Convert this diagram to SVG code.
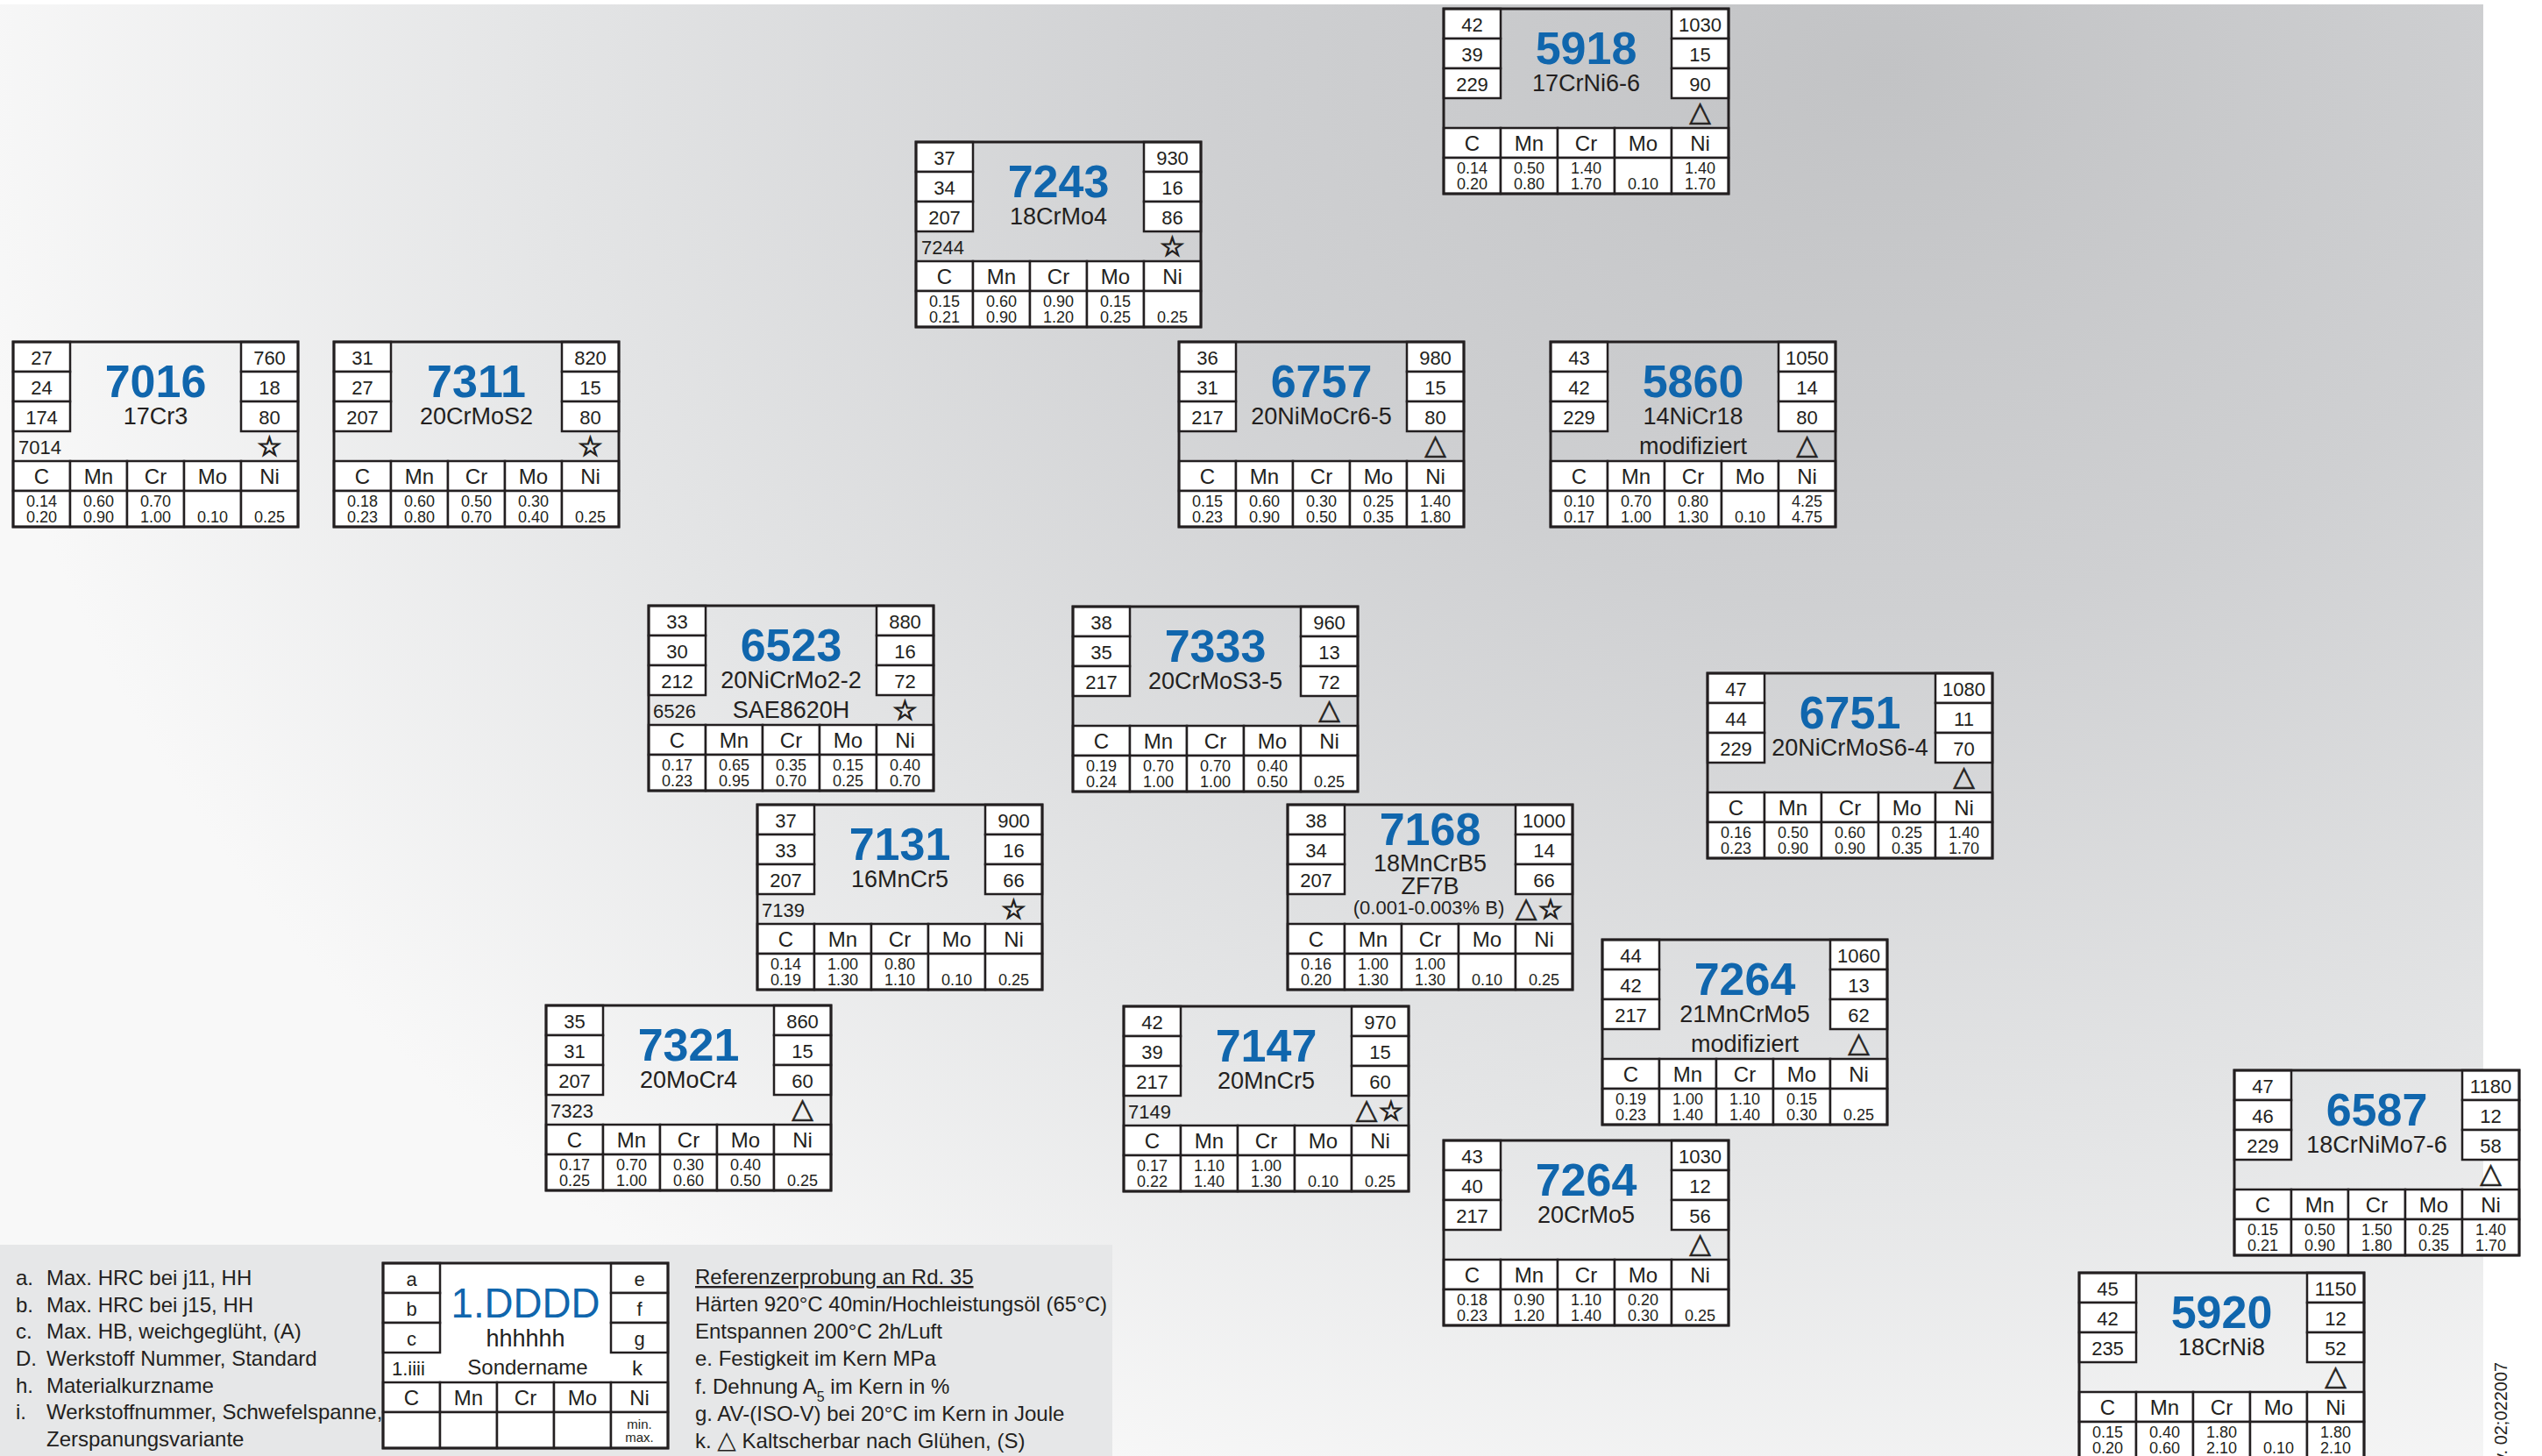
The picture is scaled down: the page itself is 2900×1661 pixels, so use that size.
<svg xmlns="http://www.w3.org/2000/svg" xmlns:xlink="http://www.w3.org/1999/xlink" width="2900" height="1661" viewBox="0 0 2900 1661">
<style>
text{font-family:"Liberation Sans",Arial,Helvetica,sans-serif;fill:#231f20}
.n{font-size:22px;text-anchor:middle}
.b{font-size:52px;font-weight:bold;fill:#1066ad;text-anchor:middle}
.m{font-size:27px;text-anchor:middle}
.h{font-size:24px;text-anchor:middle}
.v{font-size:18px;text-anchor:middle}
.l{font-size:22px}
.s{font-family:"DejaVu Sans",sans-serif;font-size:32px;text-anchor:middle;stroke:#231f20;stroke-width:0.6}
.st{font-family:"DejaVu Sans",sans-serif;font-size:31px;font-weight:bold;text-anchor:middle;stroke:#231f20;stroke-width:1.3}
.g{font-size:24px}
.cell rect{fill:#fff;stroke:#231f20;stroke-width:2.5}
</style>
<defs>
<radialGradient id="bg" gradientUnits="userSpaceOnUse" cx="2150" cy="80" r="2200" gradientTransform="translate(2150 80) scale(1 0.8) translate(-2150 -80)">
<stop offset="0" stop-color="#c2c3c5"/>
<stop offset="0.35" stop-color="#cfd0d2"/>
<stop offset="0.7" stop-color="#e4e5e6"/>
<stop offset="1" stop-color="#f8f8f8"/>
</radialGradient>
<g id="fr">
<g class="cell">
<rect x="0" y="0" width="65" height="34"/><rect x="0" y="34" width="65" height="34"/><rect x="0" y="68" width="65" height="34"/>
<rect x="260" y="0" width="65" height="34"/><rect x="260" y="34" width="65" height="34"/><rect x="260" y="68" width="65" height="34"/>
<rect x="0" y="136" width="65" height="34"/><rect x="65" y="136" width="65" height="34"/><rect x="130" y="136" width="65" height="34"/><rect x="195" y="136" width="65" height="34"/><rect x="260" y="136" width="65" height="34"/>
<rect x="0" y="170" width="65" height="41"/><rect x="65" y="170" width="65" height="41"/><rect x="130" y="170" width="65" height="41"/><rect x="195" y="170" width="65" height="41"/><rect x="260" y="170" width="65" height="41"/>
</g>
<rect x="0" y="0" width="325" height="211" fill="none" stroke="#231f20" stroke-width="3"/>
</g>
</defs>
<rect x="0" y="0" width="2900" height="1661" fill="#ffffff"/>
<rect x="0" y="5" width="2833" height="1656" fill="url(#bg)"/>
<rect x="0" y="1420" width="1269" height="241" fill="#e6e7e8"/>
<g id="connectors"/>

<g id="n5918" transform="translate(1647,10)">
<use href="#fr"/>
<text class="n" x="32.5" y="26">42</text><text class="n" x="32.5" y="60">39</text><text class="n" x="32.5" y="94">229</text>
<text class="n" x="292.5" y="26">1030</text><text class="n" x="292.5" y="60">15</text><text class="n" x="292.5" y="94">90</text>
<text class="b" x="162.5" y="63">5918</text><text class="m" x="162.5" y="94">17CrNi6-6</text>
<text class="s" x="292.5" y="128">△</text>
<text class="h" x="32.5" y="162">C</text><text class="h" x="97.5" y="162">Mn</text><text class="h" x="162.5" y="162">Cr</text><text class="h" x="227.5" y="162">Mo</text><text class="h" x="292.5" y="162">Ni</text>
<text class="v" x="32.5" y="188">0.14<tspan x="32.5" y="206">0.20</tspan></text>
<text class="v" x="97.5" y="188">0.50<tspan x="97.5" y="206">0.80</tspan></text>
<text class="v" x="162.5" y="188">1.40<tspan x="162.5" y="206">1.70</tspan></text>
<text class="v" x="227.5" y="206">0.10</text>
<text class="v" x="292.5" y="188">1.40<tspan x="292.5" y="206">1.70</tspan></text>
</g>

<g id="n7243" transform="translate(1045,162)">
<use href="#fr"/>
<text class="n" x="32.5" y="26">37</text><text class="n" x="32.5" y="60">34</text><text class="n" x="32.5" y="94">207</text>
<text class="n" x="292.5" y="26">930</text><text class="n" x="292.5" y="60">16</text><text class="n" x="292.5" y="94">86</text>
<text class="b" x="162.5" y="63">7243</text><text class="m" x="162.5" y="94">18CrMo4</text>
<text class="l" x="6" y="128">7244</text><text class="st" x="292.5" y="130">☆</text>
<text class="h" x="32.5" y="162">C</text><text class="h" x="97.5" y="162">Mn</text><text class="h" x="162.5" y="162">Cr</text><text class="h" x="227.5" y="162">Mo</text><text class="h" x="292.5" y="162">Ni</text>
<text class="v" x="32.5" y="188">0.15<tspan x="32.5" y="206">0.21</tspan></text>
<text class="v" x="97.5" y="188">0.60<tspan x="97.5" y="206">0.90</tspan></text>
<text class="v" x="162.5" y="188">0.90<tspan x="162.5" y="206">1.20</tspan></text>
<text class="v" x="227.5" y="188">0.15<tspan x="227.5" y="206">0.25</tspan></text>
<text class="v" x="292.5" y="206">0.25</text>
</g>

<g id="n7016" transform="translate(15,390)">
<use href="#fr"/>
<text class="n" x="32.5" y="26">27</text><text class="n" x="32.5" y="60">24</text><text class="n" x="32.5" y="94">174</text>
<text class="n" x="292.5" y="26">760</text><text class="n" x="292.5" y="60">18</text><text class="n" x="292.5" y="94">80</text>
<text class="b" x="162.5" y="63">7016</text><text class="m" x="162.5" y="94">17Cr3</text>
<text class="l" x="6" y="128">7014</text><text class="st" x="292.5" y="130">☆</text>
<text class="h" x="32.5" y="162">C</text><text class="h" x="97.5" y="162">Mn</text><text class="h" x="162.5" y="162">Cr</text><text class="h" x="227.5" y="162">Mo</text><text class="h" x="292.5" y="162">Ni</text>
<text class="v" x="32.5" y="188">0.14<tspan x="32.5" y="206">0.20</tspan></text>
<text class="v" x="97.5" y="188">0.60<tspan x="97.5" y="206">0.90</tspan></text>
<text class="v" x="162.5" y="188">0.70<tspan x="162.5" y="206">1.00</tspan></text>
<text class="v" x="227.5" y="206">0.10</text>
<text class="v" x="292.5" y="206">0.25</text>
</g>

<g id="n7311" transform="translate(381,390)">
<use href="#fr"/>
<text class="n" x="32.5" y="26">31</text><text class="n" x="32.5" y="60">27</text><text class="n" x="32.5" y="94">207</text>
<text class="n" x="292.5" y="26">820</text><text class="n" x="292.5" y="60">15</text><text class="n" x="292.5" y="94">80</text>
<text class="b" x="162.5" y="63">7311</text><text class="m" x="162.5" y="94">20CrMoS2</text>
<text class="st" x="292.5" y="130">☆</text>
<text class="h" x="32.5" y="162">C</text><text class="h" x="97.5" y="162">Mn</text><text class="h" x="162.5" y="162">Cr</text><text class="h" x="227.5" y="162">Mo</text><text class="h" x="292.5" y="162">Ni</text>
<text class="v" x="32.5" y="188">0.18<tspan x="32.5" y="206">0.23</tspan></text>
<text class="v" x="97.5" y="188">0.60<tspan x="97.5" y="206">0.80</tspan></text>
<text class="v" x="162.5" y="188">0.50<tspan x="162.5" y="206">0.70</tspan></text>
<text class="v" x="227.5" y="188">0.30<tspan x="227.5" y="206">0.40</tspan></text>
<text class="v" x="292.5" y="206">0.25</text>
</g>

<g id="n6757" transform="translate(1345,390)">
<use href="#fr"/>
<text class="n" x="32.5" y="26">36</text><text class="n" x="32.5" y="60">31</text><text class="n" x="32.5" y="94">217</text>
<text class="n" x="292.5" y="26">980</text><text class="n" x="292.5" y="60">15</text><text class="n" x="292.5" y="94">80</text>
<text class="b" x="162.5" y="63">6757</text><text class="m" x="162.5" y="94">20NiMoCr6-5</text>
<text class="s" x="292.5" y="128">△</text>
<text class="h" x="32.5" y="162">C</text><text class="h" x="97.5" y="162">Mn</text><text class="h" x="162.5" y="162">Cr</text><text class="h" x="227.5" y="162">Mo</text><text class="h" x="292.5" y="162">Ni</text>
<text class="v" x="32.5" y="188">0.15<tspan x="32.5" y="206">0.23</tspan></text>
<text class="v" x="97.5" y="188">0.60<tspan x="97.5" y="206">0.90</tspan></text>
<text class="v" x="162.5" y="188">0.30<tspan x="162.5" y="206">0.50</tspan></text>
<text class="v" x="227.5" y="188">0.25<tspan x="227.5" y="206">0.35</tspan></text>
<text class="v" x="292.5" y="188">1.40<tspan x="292.5" y="206">1.80</tspan></text>
</g>

<g id="n5860" transform="translate(1769,390)">
<use href="#fr"/>
<text class="n" x="32.5" y="26">43</text><text class="n" x="32.5" y="60">42</text><text class="n" x="32.5" y="94">229</text>
<text class="n" x="292.5" y="26">1050</text><text class="n" x="292.5" y="60">14</text><text class="n" x="292.5" y="94">80</text>
<text class="b" x="162.5" y="63">5860</text><text class="m" x="162.5" y="94">14NiCr18</text>
<text class="m" x="162.5" y="128">modifiziert</text><text class="s" x="292.5" y="128">△</text>
<text class="h" x="32.5" y="162">C</text><text class="h" x="97.5" y="162">Mn</text><text class="h" x="162.5" y="162">Cr</text><text class="h" x="227.5" y="162">Mo</text><text class="h" x="292.5" y="162">Ni</text>
<text class="v" x="32.5" y="188">0.10<tspan x="32.5" y="206">0.17</tspan></text>
<text class="v" x="97.5" y="188">0.70<tspan x="97.5" y="206">1.00</tspan></text>
<text class="v" x="162.5" y="188">0.80<tspan x="162.5" y="206">1.30</tspan></text>
<text class="v" x="227.5" y="206">0.10</text>
<text class="v" x="292.5" y="188">4.25<tspan x="292.5" y="206">4.75</tspan></text>
</g>

<g id="n6523" transform="translate(740,691)">
<use href="#fr"/>
<text class="n" x="32.5" y="26">33</text><text class="n" x="32.5" y="60">30</text><text class="n" x="32.5" y="94">212</text>
<text class="n" x="292.5" y="26">880</text><text class="n" x="292.5" y="60">16</text><text class="n" x="292.5" y="94">72</text>
<text class="b" x="162.5" y="63">6523</text><text class="m" x="162.5" y="94">20NiCrMo2-2</text>
<text class="l" x="5" y="128">6526</text><text class="m" x="162.5" y="128">SAE8620H</text><text class="st" x="292.5" y="130">☆</text>
<text class="h" x="32.5" y="162">C</text><text class="h" x="97.5" y="162">Mn</text><text class="h" x="162.5" y="162">Cr</text><text class="h" x="227.5" y="162">Mo</text><text class="h" x="292.5" y="162">Ni</text>
<text class="v" x="32.5" y="188">0.17<tspan x="32.5" y="206">0.23</tspan></text>
<text class="v" x="97.5" y="188">0.65<tspan x="97.5" y="206">0.95</tspan></text>
<text class="v" x="162.5" y="188">0.35<tspan x="162.5" y="206">0.70</tspan></text>
<text class="v" x="227.5" y="188">0.15<tspan x="227.5" y="206">0.25</tspan></text>
<text class="v" x="292.5" y="188">0.40<tspan x="292.5" y="206">0.70</tspan></text>
</g>

<g id="n7333" transform="translate(1224,692)">
<use href="#fr"/>
<text class="n" x="32.5" y="26">38</text><text class="n" x="32.5" y="60">35</text><text class="n" x="32.5" y="94">217</text>
<text class="n" x="292.5" y="26">960</text><text class="n" x="292.5" y="60">13</text><text class="n" x="292.5" y="94">72</text>
<text class="b" x="162.5" y="63">7333</text><text class="m" x="162.5" y="94">20CrMoS3-5</text>
<text class="s" x="292.5" y="128">△</text>
<text class="h" x="32.5" y="162">C</text><text class="h" x="97.5" y="162">Mn</text><text class="h" x="162.5" y="162">Cr</text><text class="h" x="227.5" y="162">Mo</text><text class="h" x="292.5" y="162">Ni</text>
<text class="v" x="32.5" y="188">0.19<tspan x="32.5" y="206">0.24</tspan></text>
<text class="v" x="97.5" y="188">0.70<tspan x="97.5" y="206">1.00</tspan></text>
<text class="v" x="162.5" y="188">0.70<tspan x="162.5" y="206">1.00</tspan></text>
<text class="v" x="227.5" y="188">0.40<tspan x="227.5" y="206">0.50</tspan></text>
<text class="v" x="292.5" y="206">0.25</text>
</g>

<g id="n6751" transform="translate(1948,768)">
<use href="#fr"/>
<text class="n" x="32.5" y="26">47</text><text class="n" x="32.5" y="60">44</text><text class="n" x="32.5" y="94">229</text>
<text class="n" x="292.5" y="26">1080</text><text class="n" x="292.5" y="60">11</text><text class="n" x="292.5" y="94">70</text>
<text class="b" x="162.5" y="63">6751</text><text class="m" x="162.5" y="94">20NiCrMoS6-4</text>
<text class="s" x="292.5" y="128">△</text>
<text class="h" x="32.5" y="162">C</text><text class="h" x="97.5" y="162">Mn</text><text class="h" x="162.5" y="162">Cr</text><text class="h" x="227.5" y="162">Mo</text><text class="h" x="292.5" y="162">Ni</text>
<text class="v" x="32.5" y="188">0.16<tspan x="32.5" y="206">0.23</tspan></text>
<text class="v" x="97.5" y="188">0.50<tspan x="97.5" y="206">0.90</tspan></text>
<text class="v" x="162.5" y="188">0.60<tspan x="162.5" y="206">0.90</tspan></text>
<text class="v" x="227.5" y="188">0.25<tspan x="227.5" y="206">0.35</tspan></text>
<text class="v" x="292.5" y="188">1.40<tspan x="292.5" y="206">1.70</tspan></text>
</g>

<g id="n7131" transform="translate(864,918)">
<use href="#fr"/>
<text class="n" x="32.5" y="26">37</text><text class="n" x="32.5" y="60">33</text><text class="n" x="32.5" y="94">207</text>
<text class="n" x="292.5" y="26">900</text><text class="n" x="292.5" y="60">16</text><text class="n" x="292.5" y="94">66</text>
<text class="b" x="162.5" y="63">7131</text><text class="m" x="162.5" y="94">16MnCr5</text>
<text class="l" x="5" y="128">7139</text><text class="st" x="292.5" y="130">☆</text>
<text class="h" x="32.5" y="162">C</text><text class="h" x="97.5" y="162">Mn</text><text class="h" x="162.5" y="162">Cr</text><text class="h" x="227.5" y="162">Mo</text><text class="h" x="292.5" y="162">Ni</text>
<text class="v" x="32.5" y="188">0.14<tspan x="32.5" y="206">0.19</tspan></text>
<text class="v" x="97.5" y="188">1.00<tspan x="97.5" y="206">1.30</tspan></text>
<text class="v" x="162.5" y="188">0.80<tspan x="162.5" y="206">1.10</tspan></text>
<text class="v" x="227.5" y="206">0.10</text>
<text class="v" x="292.5" y="206">0.25</text>
</g>

<g id="n7168" transform="translate(1469,918)">
<use href="#fr"/>
<text class="n" x="32.5" y="26">38</text><text class="n" x="32.5" y="60">34</text><text class="n" x="32.5" y="94">207</text>
<text class="n" x="292.5" y="26">1000</text><text class="n" x="292.5" y="60">14</text><text class="n" x="292.5" y="94">66</text>
<text class="b" x="162.5" y="46">7168</text><text class="m" x="162.5" y="76">18MnCrB5</text>
<text class="m" x="162.5" y="102">ZF7B</text>
<text class="n" x="161" y="125">(0.001-0.003% B)</text>
<text class="s" x="272" y="128">△</text><text class="st" x="300" y="130">☆</text>
<text class="h" x="32.5" y="162">C</text><text class="h" x="97.5" y="162">Mn</text><text class="h" x="162.5" y="162">Cr</text><text class="h" x="227.5" y="162">Mo</text><text class="h" x="292.5" y="162">Ni</text>
<text class="v" x="32.5" y="188">0.16<tspan x="32.5" y="206">0.20</tspan></text>
<text class="v" x="97.5" y="188">1.00<tspan x="97.5" y="206">1.30</tspan></text>
<text class="v" x="162.5" y="188">1.00<tspan x="162.5" y="206">1.30</tspan></text>
<text class="v" x="227.5" y="206">0.10</text>
<text class="v" x="292.5" y="206">0.25</text>
</g>

<g id="n7321" transform="translate(623,1147)">
<use href="#fr"/>
<text class="n" x="32.5" y="26">35</text><text class="n" x="32.5" y="60">31</text><text class="n" x="32.5" y="94">207</text>
<text class="n" x="292.5" y="26">860</text><text class="n" x="292.5" y="60">15</text><text class="n" x="292.5" y="94">60</text>
<text class="b" x="162.5" y="63">7321</text><text class="m" x="162.5" y="94">20MoCr4</text>
<text class="l" x="5" y="128">7323</text><text class="s" x="292.5" y="128">△</text>
<text class="h" x="32.5" y="162">C</text><text class="h" x="97.5" y="162">Mn</text><text class="h" x="162.5" y="162">Cr</text><text class="h" x="227.5" y="162">Mo</text><text class="h" x="292.5" y="162">Ni</text>
<text class="v" x="32.5" y="188">0.17<tspan x="32.5" y="206">0.25</tspan></text>
<text class="v" x="97.5" y="188">0.70<tspan x="97.5" y="206">1.00</tspan></text>
<text class="v" x="162.5" y="188">0.30<tspan x="162.5" y="206">0.60</tspan></text>
<text class="v" x="227.5" y="188">0.40<tspan x="227.5" y="206">0.50</tspan></text>
<text class="v" x="292.5" y="206">0.25</text>
</g>

<g id="n7147" transform="translate(1282,1148)">
<use href="#fr"/>
<text class="n" x="32.5" y="26">42</text><text class="n" x="32.5" y="60">39</text><text class="n" x="32.5" y="94">217</text>
<text class="n" x="292.5" y="26">970</text><text class="n" x="292.5" y="60">15</text><text class="n" x="292.5" y="94">60</text>
<text class="b" x="162.5" y="63">7147</text><text class="m" x="162.5" y="94">20MnCr5</text>
<text class="l" x="5" y="128">7149</text><text class="s" x="277" y="128">△</text><text class="st" x="305" y="130">☆</text>
<text class="h" x="32.5" y="162">C</text><text class="h" x="97.5" y="162">Mn</text><text class="h" x="162.5" y="162">Cr</text><text class="h" x="227.5" y="162">Mo</text><text class="h" x="292.5" y="162">Ni</text>
<text class="v" x="32.5" y="188">0.17<tspan x="32.5" y="206">0.22</tspan></text>
<text class="v" x="97.5" y="188">1.10<tspan x="97.5" y="206">1.40</tspan></text>
<text class="v" x="162.5" y="188">1.00<tspan x="162.5" y="206">1.30</tspan></text>
<text class="v" x="227.5" y="206">0.10</text>
<text class="v" x="292.5" y="206">0.25</text>
</g>

<g id="n7264a" transform="translate(1828,1072)">
<use href="#fr"/>
<text class="n" x="32.5" y="26">44</text><text class="n" x="32.5" y="60">42</text><text class="n" x="32.5" y="94">217</text>
<text class="n" x="292.5" y="26">1060</text><text class="n" x="292.5" y="60">13</text><text class="n" x="292.5" y="94">62</text>
<text class="b" x="162.5" y="63">7264</text><text class="m" x="162.5" y="94">21MnCrMo5</text>
<text class="m" x="162.5" y="128">modifiziert</text><text class="s" x="292.5" y="128">△</text>
<text class="h" x="32.5" y="162">C</text><text class="h" x="97.5" y="162">Mn</text><text class="h" x="162.5" y="162">Cr</text><text class="h" x="227.5" y="162">Mo</text><text class="h" x="292.5" y="162">Ni</text>
<text class="v" x="32.5" y="188">0.19<tspan x="32.5" y="206">0.23</tspan></text>
<text class="v" x="97.5" y="188">1.00<tspan x="97.5" y="206">1.40</tspan></text>
<text class="v" x="162.5" y="188">1.10<tspan x="162.5" y="206">1.40</tspan></text>
<text class="v" x="227.5" y="188">0.15<tspan x="227.5" y="206">0.30</tspan></text>
<text class="v" x="292.5" y="206">0.25</text>
</g>

<g id="n7264b" transform="translate(1647,1301)">
<use href="#fr"/>
<text class="n" x="32.5" y="26">43</text><text class="n" x="32.5" y="60">40</text><text class="n" x="32.5" y="94">217</text>
<text class="n" x="292.5" y="26">1030</text><text class="n" x="292.5" y="60">12</text><text class="n" x="292.5" y="94">56</text>
<text class="b" x="162.5" y="63">7264</text><text class="m" x="162.5" y="94">20CrMo5</text>
<text class="s" x="292.5" y="128">△</text>
<text class="h" x="32.5" y="162">C</text><text class="h" x="97.5" y="162">Mn</text><text class="h" x="162.5" y="162">Cr</text><text class="h" x="227.5" y="162">Mo</text><text class="h" x="292.5" y="162">Ni</text>
<text class="v" x="32.5" y="188">0.18<tspan x="32.5" y="206">0.23</tspan></text>
<text class="v" x="97.5" y="188">0.90<tspan x="97.5" y="206">1.20</tspan></text>
<text class="v" x="162.5" y="188">1.10<tspan x="162.5" y="206">1.40</tspan></text>
<text class="v" x="227.5" y="188">0.20<tspan x="227.5" y="206">0.30</tspan></text>
<text class="v" x="292.5" y="206">0.25</text>
</g>

<g id="n6587" transform="translate(2549,1221)">
<use href="#fr"/>
<text class="n" x="32.5" y="26">47</text><text class="n" x="32.5" y="60">46</text><text class="n" x="32.5" y="94">229</text>
<text class="n" x="292.5" y="26">1180</text><text class="n" x="292.5" y="60">12</text><text class="n" x="292.5" y="94">58</text>
<text class="b" x="162.5" y="63">6587</text><text class="m" x="162.5" y="94">18CrNiMo7-6</text>
<text class="s" x="292.5" y="128">△</text>
<text class="h" x="32.5" y="162">C</text><text class="h" x="97.5" y="162">Mn</text><text class="h" x="162.5" y="162">Cr</text><text class="h" x="227.5" y="162">Mo</text><text class="h" x="292.5" y="162">Ni</text>
<text class="v" x="32.5" y="188">0.15<tspan x="32.5" y="206">0.21</tspan></text>
<text class="v" x="97.5" y="188">0.50<tspan x="97.5" y="206">0.90</tspan></text>
<text class="v" x="162.5" y="188">1.50<tspan x="162.5" y="206">1.80</tspan></text>
<text class="v" x="227.5" y="188">0.25<tspan x="227.5" y="206">0.35</tspan></text>
<text class="v" x="292.5" y="188">1.40<tspan x="292.5" y="206">1.70</tspan></text>
</g>

<g id="n5920" transform="translate(2372,1452)">
<use href="#fr"/>
<text class="n" x="32.5" y="26">45</text><text class="n" x="32.5" y="60">42</text><text class="n" x="32.5" y="94">235</text>
<text class="n" x="292.5" y="26">1150</text><text class="n" x="292.5" y="60">12</text><text class="n" x="292.5" y="94">52</text>
<text class="b" x="162.5" y="63">5920</text><text class="m" x="162.5" y="94">18CrNi8</text>
<text class="s" x="292.5" y="128">△</text>
<text class="h" x="32.5" y="162">C</text><text class="h" x="97.5" y="162">Mn</text><text class="h" x="162.5" y="162">Cr</text><text class="h" x="227.5" y="162">Mo</text><text class="h" x="292.5" y="162">Ni</text>
<text class="v" x="32.5" y="188">0.15<tspan x="32.5" y="206">0.20</tspan></text>
<text class="v" x="97.5" y="188">0.40<tspan x="97.5" y="206">0.60</tspan></text>
<text class="v" x="162.5" y="188">1.80<tspan x="162.5" y="206">2.10</tspan></text>
<text class="v" x="227.5" y="206">0.10</text>
<text class="v" x="292.5" y="188">1.80<tspan x="292.5" y="206">2.10</tspan></text>
</g>

<g id="legend">
<g id="legend-left">
<text class="g" x="18" y="1466">a.<tspan x="53">Max. HRC bei j11, HH</tspan></text>
<text class="g" x="18" y="1497">b.<tspan x="53">Max. HRC bei j15, HH</tspan></text>
<text class="g" x="18" y="1527">c.<tspan x="53">Max. HB, weichgeglüht, (A)</tspan></text>
<text class="g" x="18" y="1558">D.<tspan x="53">Werkstoff Nummer, Standard</tspan></text>
<text class="g" x="18" y="1589">h.<tspan x="53">Materialkurzname</tspan></text>
<text class="g" x="18" y="1619">i.<tspan x="53">Werkstoffnummer, Schwefelspanne,</tspan></text>
<text class="g" x="53" y="1650">Zerspanungsvariante</text>
</g>
<g id="legend-key" transform="translate(437,1441)">
<rect x="0" y="0" width="325" height="211" fill="#ffffff"/>
<use href="#fr"/>
<text class="n" x="32.5" y="26">a</text><text class="n" x="32.5" y="60">b</text><text class="n" x="32.5" y="94">c</text>
<text class="n" x="292.5" y="26">e</text><text class="n" x="292.5" y="60">f</text><text class="n" x="292.5" y="94">g</text>
<text x="162.5" y="62" textLength="170" lengthAdjust="spacingAndGlyphs" style="font-size:48px;fill:#1066ad;text-anchor:middle">1.DDDD</text>
<text class="m" x="162.5" y="95">hhhhhh</text>
<text class="l" x="10" y="128">1.iiii</text>
<text class="h" x="165" y="127">Sondername</text>
<text class="h" x="290" y="128">k</text>
<text class="h" x="32.5" y="162">C</text><text class="h" x="97.5" y="162">Mn</text><text class="h" x="162.5" y="162">Cr</text><text class="h" x="227.5" y="162">Mo</text><text class="h" x="292.5" y="162">Ni</text>
<text x="292.5" y="189" style="font-size:15px;text-anchor:middle">min.<tspan x="292.5" y="204">max.</tspan></text>
</g>
<g id="legend-right">
<text class="g" x="793" y="1465" text-decoration="underline">Referenzerprobung an Rd. 35</text>
<text class="g" x="793" y="1496">Härten 920°C 40min/Hochleistungsöl (65°C)</text>
<text class="g" x="793" y="1527">Entspannen 200°C 2h/Luft</text>
<text class="g" x="793" y="1558">e. Festigkeit im Kern MPa</text>
<text class="g" x="793" y="1590">f.  Dehnung A<tspan baseline-shift="sub" font-size="16">5</tspan> im Kern in %</text>
<text class="g" x="793" y="1621">g. AV-(ISO-V) bei 20°C im Kern in Joule</text>
<text class="g" x="793" y="1652">k. <tspan style="font-family:'DejaVu Sans',sans-serif;font-size:28px">△</tspan> Kaltscherbar nach Glühen, (S)</text>
</g>
</g>

<text x="2860" y="1668" transform="rotate(-90 2860 1668)" style="font-size:20px">v. 02;022007</text>
</svg>
